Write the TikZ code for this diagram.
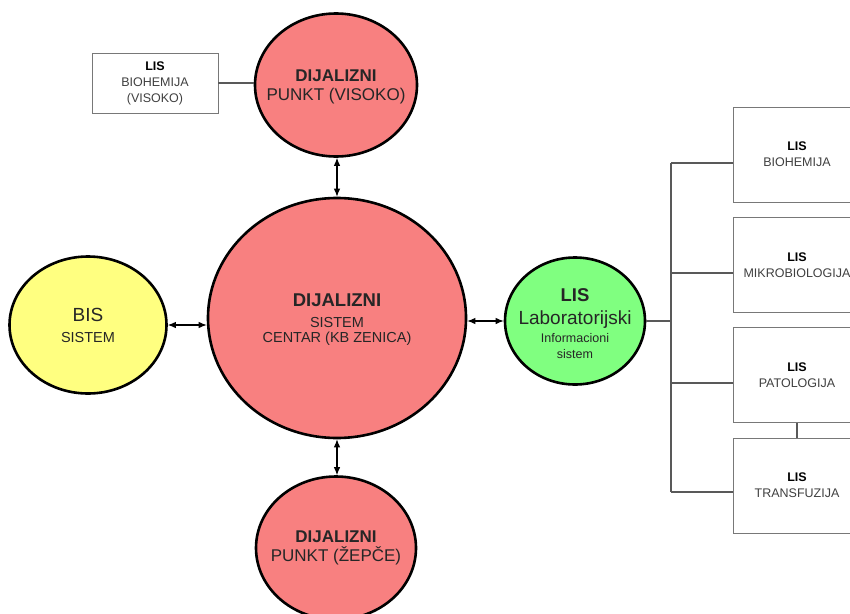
\documentclass[tikz,border=0pt]{standalone}
\usepackage{fontspec}
\setmainfont{Liberation Sans}
\usetikzlibrary{shapes.geometric,arrows.meta}
\definecolor{dialred}{RGB}{248,128,128}
\definecolor{bisyellow}{RGB}{255,255,128}
\definecolor{lisgreen}{RGB}{128,255,128}
\definecolor{boxgray}{RGB}{120,120,120}
\definecolor{txtgray}{RGB}{64,64,64}

\begin{document}
\begin{tikzpicture}[x=1pt, y=-1pt,
  circ/.style={ellipse, draw=black, line width=2.6pt, inner sep=0pt},
  circtext/.style={align=center, text=black!85, inner sep=0pt},
  lisbox/.style={rectangle, draw=boxgray, line width=0.9pt, fill=white, inner sep=0pt,
    minimum width=128pt, minimum height=95pt, align=center, text=txtgray,
    font=\fontsize{12.5}{16}\selectfont},
  link/.style={{Latex[length=8pt,width=6.5pt]}-{Latex[length=8pt,width=6.5pt]}, line width=1.1pt},
  bus/.style={draw=black!65, line width=1.1pt}]
\useasboundingbox[fill=white] (0,0) rectangle (850,613);
\clip (0,0) rectangle (850,613);

% Circles
\node[circ, fill=dialred, minimum width=258pt, minimum height=240pt,
  label={[circtext, yshift=-2pt, font=\fontsize{14.5}{15}\selectfont]center:{{\fontsize{18.5}{18}\selectfont\bfseries DIJALIZNI}\\[6pt] SISTEM\\ CENTAR (KB ZENICA)}}]
  (centar) at (337,318) {};
\node[circ, fill=dialred, minimum width=162pt, minimum height=143pt,
  label={[circtext, yshift=-1.5pt, font=\fontsize{17}{19}\selectfont]center:{{\bfseries DIJALIZNI}\\ PUNKT (VISOKO)}}]
  (visoko) at (336,85) {};
\node[circ, fill=dialred, minimum width=160pt, minimum height=143pt,
  label={[circtext, font=\fontsize{17}{19}\selectfont]center:{{\bfseries DIJALIZNI}\\ PUNKT (ŽEPČE)}}]
  (zepce) at (336,548) {};
\node[circ, fill=bisyellow, minimum width=157pt, minimum height=137pt,
  label={[circtext, font=\fontsize{14.5}{21}\selectfont]center:{{\fontsize{19}{20}\selectfont BIS}\\ SISTEM}}]
  (bis) at (88,325) {};
\node[circ, fill=lisgreen, minimum width=140pt, minimum height=127pt,
  label={[circtext, yshift=-3pt, font=\fontsize{12.5}{16}\selectfont]center:{{\fontsize{18.5}{22}\selectfont\bfseries LIS}\\[7pt]
   {\fontsize{19}{22}\selectfont Laboratorijski}\\[2pt] Informacioni\\ sistem}}]
  (lis) at (575,321) {};

% LIS boxes
\node[lisbox, minimum width=126pt, minimum height=60pt] (visokobox) at (155,83)
  {{\color{black}\bfseries LIS}\\ BIOHEMIJA\\ (VISOKO)};
\node[lisbox] (bio) at (797,154.5) {{\color{black}\bfseries LIS}\\ BIOHEMIJA};
\node[lisbox] (mik) at (797,265) {{\color{black}\bfseries LIS}\\ MIKROBIOLOGIJA};
\node[lisbox] (pat) at (797,375) {{\color{black}\bfseries LIS}\\ PATOLOGIJA};
\node[lisbox] (tra) at (797,485.5) {{\color{black}\bfseries LIS}\\ TRANSFUZIJA};

% Links
\draw[link] (centar.north |- visoko.south) -- (centar.north);
\draw[link] (centar.south) -- (centar.south |- zepce.north);
\draw[link] (bis.east) -- (bis.east -| centar.west);
\draw[link] (lis.west -| centar.east) -- (lis.west);
\draw[bus] (visokobox.east) -- (visokobox.east -| visoko.west);

% Bus to the LIS boxes
\coordinate (busT) at (671,163);
\coordinate (busB) at (671,492);
\draw[bus] (busT) -- (busB);
\draw[bus] (lis.east) -- (lis.east -| busT);
\foreach \b/\y in {bio/163, mik/273, pat/383, tra/492} {
  \coordinate (\b-j) at (671,\y);
  \draw[bus] (\b-j) -- (\b-j -| \b.west);
}
\draw[bus] (pat.south) -- (tra.north);

\end{tikzpicture}
\end{document}
